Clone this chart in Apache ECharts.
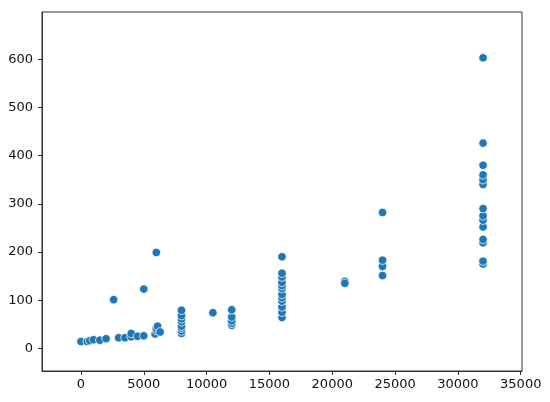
<!DOCTYPE html>
<html>
<head>
<meta charset="utf-8">
<script src="https://cdn.jsdelivr.net/npm/echarts@6/dist/echarts.min.js"></script>
<style>
  html, body { margin: 0; padding: 0; background: #fff; }
  #chart { width: 550px; height: 402px; }
</style>
</head>
<body>
<div id="chart"></div>
<script>
const xValues = [
  0, 500, 700, 1000, 1500, 2000, 2600, 3000, 3500, 4000, 4000, 4500, 5000, 5000,
  5900, 6000, 6000, 6000, 6100, 6300,
  8000, 8000, 8000, 8000, 8000, 8000, 8000, 8000,
  10500,
  12000, 12000, 12000, 12000, 12000,
  16000, 16000, 16000, 16000, 16000, 16000, 16000, 16000, 16000, 16000, 16000, 16000,
  21000, 21000,
  24000, 24000, 24000, 24000,
  32000, 32000, 32000, 32000, 32000, 32000, 32000, 32000, 32000, 32000, 32000, 32000, 32000, 32000
];
const yValues = [
  14, 14, 16, 18, 17, 20, 101, 22, 22, 24, 31, 25, 26, 123,
  30, 37, 42, 199, 46, 34,
  31, 36, 42, 46, 55, 61, 68, 79,
  74,
  48, 52, 57, 65, 80,
  64, 75, 86, 98, 105, 112, 124, 130, 137, 148, 156, 190,
  139, 135,
  151, 170, 183, 282,
  175, 181, 219, 226, 252, 266, 275, 290, 340, 350, 360, 380, 426, 603
];
const xTicks = [0, 5000, 10000, 15000, 20000, 25000, 30000, 35000];
const yTicks = [0, 100, 200, 300, 400, 500, 600];

const points = xValues.map((x, i) => [x, yValues[i]]);

const chart = echarts.init(document.getElementById('chart'));

const axisCommon = {
  axisLine: { show: true, onZero: false, lineStyle: { color: '#333', width: 1 } },
  splitLine: { show: false },
  axisTick: { show: true, length: 4, lineStyle: { color: '#333' } },
  axisLabel: { color: '#111', fontSize: 13, fontFamily: 'DejaVu Sans', formatter: v => String(v) }
};

chart.setOption({
  animation: false,
  backgroundColor: '#fff',
  grid: {
    left: 42, right: 28, top: 12, bottom: 31,
    show: true, borderColor: '#333', borderWidth: 1
  },
  xAxis: {
    type: 'value',
    min: -3100,
    max: 35100,
    ...axisCommon,
    axisTick: { ...axisCommon.axisTick, customValues: xTicks },
    axisLabel: { ...axisCommon.axisLabel, margin: 7, customValues: xTicks }
  },
  yAxis: {
    type: 'value',
    min: -47,
    max: 698,
    ...axisCommon,
    axisTick: { ...axisCommon.axisTick, customValues: yTicks },
    axisLabel: { ...axisCommon.axisLabel, margin: 9, customValues: yTicks }
  },
  series: [{
    type: 'scatter',
    data: points,
    symbolSize: 8.5,
    itemStyle: { color: '#1f77b4', borderColor: '#fff', borderWidth: 0.75, opacity: 1 }
  }]
});
</script>
</body>
</html>
